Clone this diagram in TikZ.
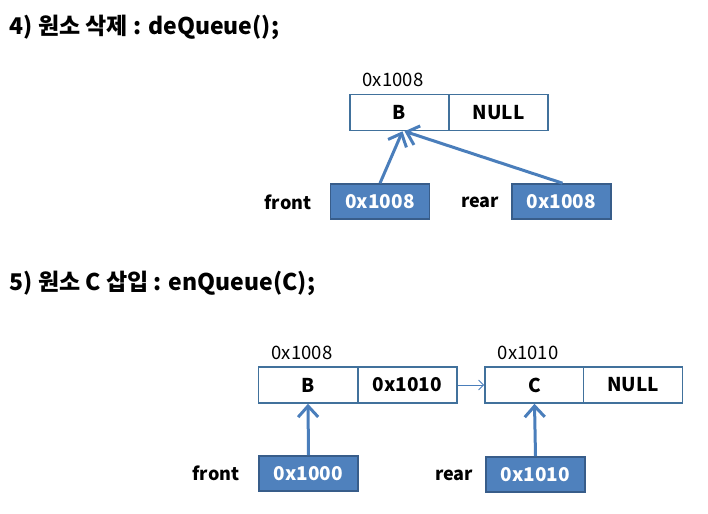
\documentclass[tikz,border=0pt]{standalone}
\usepackage{fontspec}
\setmainfont{Noto Sans CJK KR}
\usetikzlibrary{arrows.meta}
\definecolor{boxline}{HTML}{41719C}
\definecolor{ptrfill}{HTML}{4F81BD}
\definecolor{ptrline}{HTML}{385D8A}
\definecolor{arrowblue}{HTML}{4A7EBB}
\tikzset{
  cell/.style={draw=boxline, line width=1.6pt, fill=white, minimum width=99pt, minimum height=36pt,
    inner sep=0pt, font=\bfseries\fontsize{19}{20}\selectfont},
  ptrbox/.style={draw=ptrline, line width=1.6pt, fill=ptrfill, text=white, minimum width=99pt,
    minimum height=35pt, inner sep=0pt, font=\bfseries\fontsize{19}{20}\selectfont},
  addr/.style={font=\fontsize{18.5}{20}\selectfont},
  ptrname/.style={font=\bfseries\fontsize{18}{20}\selectfont},
  headline/.style={anchor=west, font=\bfseries\fontsize{23}{26}\selectfont},
  ptrarrow/.style={draw=arrowblue, line width=3pt, -{Straight Barb[length=11pt,width=20pt]}},
  linkarrow/.style={draw=arrowblue, line width=0.9pt, -{Straight Barb[length=5pt,width=10pt]}}
}
\begin{document}
\begin{tikzpicture}[x=1pt,y=-1pt]
        \useasboundingbox (0,0) rectangle (708,513);
        % 4) deQueue
        \node[headline] (t4) at (6,27) {4) 원소 삭제 : deQueue();};
        \node[addr] (a4) at (393,80) {0x1008};
        \node[cell] (b4) at (399.5,112.5) {B};
        \node[cell] (n4) at (498.5,112.5) {NULL};
        \node[ptrname] (fl4) at (288,202) {front};
        \node[ptrbox] (f4) at (380,201.5) {0x1008};
        \node[ptrname] (rl4) at (480,202) {rear};
        \node[ptrbox] (r4) at (561.5,201.5) {0x1008};
        \draw[ptrarrow] (f4.north) -- ([xshift=3pt]b4.south);
        \draw[ptrarrow] ([xshift=1pt]r4.north) -- ([xshift=5pt]b4.south);
        % 5) enQueue(C)
        \node[headline] (t5) at (6,283) {5) 원소 C 삽입 : enQueue(C);};
        \node[addr] (a5b) at (302,353) {0x1008};
        \node[cell] (b5) at (308,385) {B};
        \node[cell] (l5) at (407.5,385) {0x1010};
        \node[addr] (a5c) at (528,353) {0x1010};
        \node[cell] (c5) at (534.5,385) {C};
        \node[cell] (n5) at (633,385) {NULL};
        \node[ptrname] (fl5) at (216,473) {front};
        \node[ptrbox] (f5) at (308.5,473.5) {0x1000};
        \node[ptrname] (rl5) at (454,475) {rear};
        \node[ptrbox] (r5) at (535.5,474.5) {0x1010};
        \draw[linkarrow] (l5.east) -- (c5.west);
        \draw[ptrarrow] (f5.north) -- (b5.south);
        \draw[ptrarrow] (r5.north) -- (c5.south);
\end{tikzpicture}
\end{document}
